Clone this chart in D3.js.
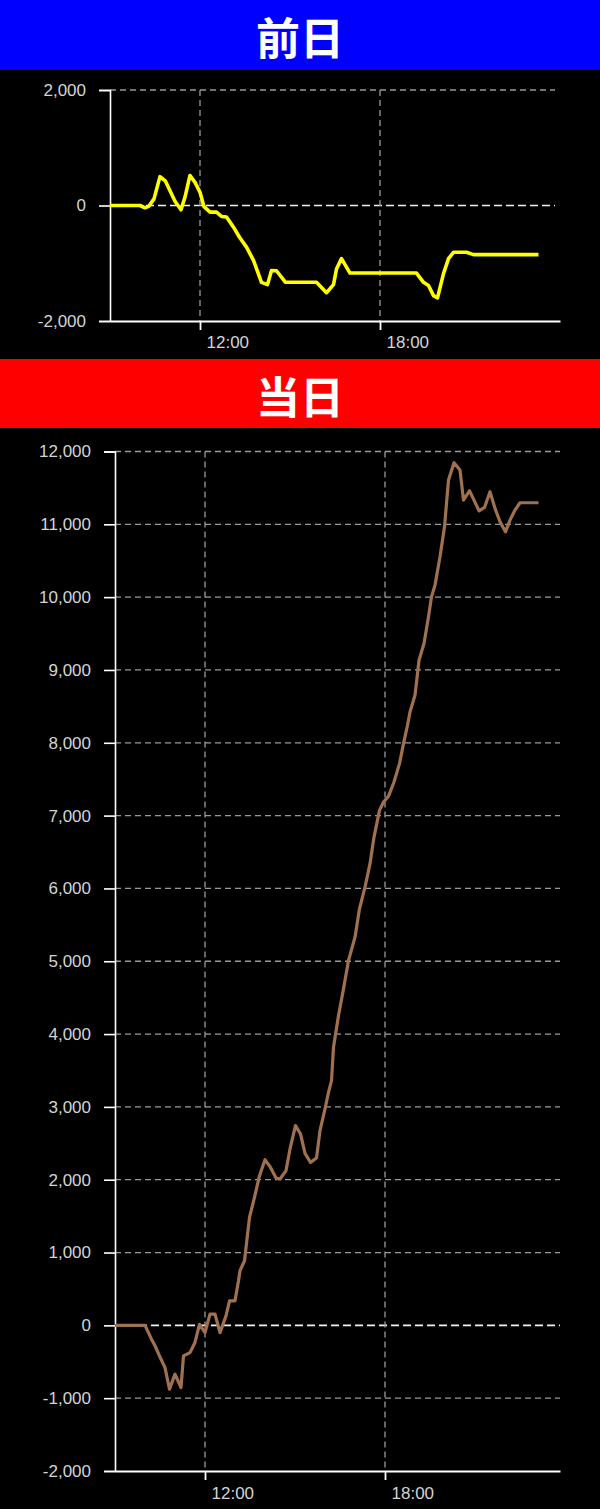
<!DOCTYPE html>
<html>
<head>
<meta charset="utf-8">
<script src="https://cdn.jsdelivr.net/npm/d3@7"></script>
<style>
html,body{margin:0;padding:0;background:#000;}
svg{display:block;}
</style>
</head>
<body>
<svg id="chart" width="600" height="1509"></svg>
<script>
// ---- data ----
const titles = ["前日", "当日"];
const xTickLabels = ["12:00", "18:00"];

const prevTimes = ["09:00","10:00","10:10","10:18","10:28","10:40","10:51","11:10","11:22","11:30","11:40","11:50","12:00","12:08","12:20","12:33","12:43","12:53","13:07","13:19","13:33","13:47","14:03","14:15","14:23","14:33","14:51","15:53","16:13","16:27","16:33","16:43","17:00","19:13","19:27","19:37","19:47","19:55","20:07","20:17","20:27","20:53","21:07","23:17"];
const prevValues = [0,0,-40,-10,115,500,420,75,-75,145,520,400,230,-20,-115,-115,-190,-200,-375,-550,-720,-950,-1330,-1370,-1125,-1130,-1330,-1330,-1510,-1370,-1100,-920,-1170,-1170,-1330,-1385,-1560,-1600,-1180,-920,-810,-810,-850,-850];
const prevYTicks = [-2000, 0, 2000];

const todayTimes = ["09:00","10:00","10:13","10:20","10:29","10:40","10:49","11:00","11:12","11:17","11:30","11:40","11:49","12:00","12:10","12:20","12:30","12:42","12:49","13:00","13:07","13:10","13:19","13:29","13:39","13:49","14:00","14:10","14:22","14:30","14:42","14:50","15:01","15:11","15:20","15:31","15:43","15:50","16:00","16:07","16:13","16:17","16:27","16:37","16:47","17:00","17:09","17:20","17:30","17:38","17:49","17:57","18:07","18:18","18:29","18:37","18:45","18:50","19:00","19:05","19:08","19:18","19:27","19:33","19:40","19:50","19:59","20:07","20:18","20:30","20:37","20:49","20:58","21:08","21:19","21:30","21:40","21:50","22:01","22:10","22:20","22:30","23:07"];
const todayValues = [0,0,-190,-280,-420,-580,-877,-670,-855,-420,-375,-235,15,-100,155,155,-100,130,337,337,612,750,887,1482,1757,2055,2275,2180,2023,2010,2124,2422,2742,2628,2361,2238,2298,2674,2972,3200,3361,3818,4254,4621,5010,5331,5721,6018,6340,6705,7072,7186,7265,7461,7714,7989,8241,8423,8653,8951,9134,9363,9730,10004,10165,10554,10966,11608,11846,11746,11333,11461,11333,11186,11232,11447,11219,11035,10897,11058,11196,11296,11296];
const todayYTicks = [-2000,-1000,0,1000,2000,3000,4000,5000,6000,7000,8000,9000,10000,11000,12000];

// ---- helpers ----
function toDate(s){ const [h,m] = s.split(":").map(Number); return new Date(1900,0,1,h,m); }
const numFmt = d3.formatLocale({decimal:".", thousands:",", grouping:[3], currency:["",""], minus:"-"}).format(",");

const svg = d3.select("#chart");
svg.append("rect").attr("x",0).attr("y",0).attr("width",600).attr("height",1509).attr("fill","#000");

function banner(y, h, color, text){
  svg.append("rect").attr("x",0).attr("y",y).attr("width",600).attr("height",h).attr("fill",color);
  svg.append("text").attr("x",300).attr("y",y+h/2+1)
    .attr("text-anchor","middle").attr("dominant-baseline","central")
    .attr("fill","#fff").attr("font-family","'Noto Sans CJK JP','Noto Sans CJK SC',sans-serif")
    .attr("font-weight","bold").attr("font-size",44).text(text);
}
banner(0, 70, "#0000ff", titles[0]);
banner(359, 69, "#ff0000", titles[1]);

function drawChart(cfg){
  const x = d3.scaleTime().domain(cfg.xDomain.map(toDate)).range([cfg.left, cfg.right]);
  const y = d3.scaleLinear().domain(cfg.yDomain).range([cfg.bottom, cfg.top]);
  const g = svg.append("g");
  const font = "'Liberation Sans', Arial, sans-serif";

  // horizontal grid
  g.selectAll("line.hgrid").data(cfg.yTicks.filter(d => d !== cfg.yDomain[0])).enter().append("line")
    .attr("x1", cfg.left).attr("x2", cfg.gridRight)
    .attr("y1", d => y(d)).attr("y2", d => y(d))
    .attr("stroke", d => d === 0 ? "#f2f2f2" : "#9a9a9a")
    .attr("stroke-width", d => d === 0 ? 1.6 : 1.3)
    .attr("stroke-dasharray", d => d === 0 ? "8,4" : "6,4");

  // vertical grid
  g.selectAll("line.vgrid").data(xTickLabels).enter().append("line")
    .attr("x1", d => x(toDate(d))).attr("x2", d => x(toDate(d)))
    .attr("y1", cfg.top).attr("y2", cfg.bottom)
    .attr("stroke", "#9a9a9a").attr("stroke-width", 1.3).attr("stroke-dasharray", "6,4");

  // y axis
  const ya = d3.axisLeft(y).tickValues(cfg.yTicks).tickFormat(numFmt).tickSize(11).tickPadding(13);
  const yg = g.append("g").attr("transform", `translate(${cfg.left},0)`).call(ya);
  yg.select(".domain").attr("stroke","#fff").attr("stroke-width",1.6);
  yg.selectAll(".tick line").attr("stroke","#fff").attr("stroke-width",1.6);
  yg.selectAll(".tick text").attr("fill","#d4d4d4").attr("font-family",font).attr("font-size",17);

  // x axis
  const xa = d3.axisBottom(x).tickValues(xTickLabels.map(toDate)).tickFormat(d3.timeFormat("%H:%M")).tickSize(9).tickSizeOuter(0);
  const xg = g.append("g").attr("transform", `translate(0,${cfg.bottom})`).call(xa);
  xg.select(".domain").attr("stroke","#fff").attr("stroke-width",1.8);
  xg.selectAll(".tick line").attr("stroke","#fff").attr("stroke-width",1.8);
  xg.selectAll(".tick text").attr("fill","#d4d4d4").attr("font-family",font).attr("font-size",17)
    .attr("text-anchor","start").attr("dx",6).attr("dy",0).attr("y",cfg.labelDy);

  // line
  const pts = cfg.times.map((t,i) => [toDate(t), cfg.values[i]]);
  const line = d3.line().x(d => x(d[0])).y(d => y(d[1]));
  g.append("path").datum(pts).attr("d", line)
    .attr("fill","none").attr("stroke", cfg.color).attr("stroke-width", cfg.width)
    .attr("stroke-linejoin","round").attr("stroke-linecap","butt");
}

drawChart({
  xDomain: ["09:00","24:00"], yDomain: [-2000, 2000],
  left: 110, right: 560, gridRight: 555, top: 90, bottom: 321, labelDy: 27,
  yTicks: prevYTicks, times: prevTimes, values: prevValues, color: "#ffff00", width: 3.6
});

drawChart({
  xDomain: ["09:00","23:50"], yDomain: [-2000, 12000],
  left: 115, right: 560, gridRight: 560, top: 451.5, bottom: 1471, labelDy: 28,
  yTicks: todayYTicks, times: todayTimes, values: todayValues, color: "#a0714f", width: 3.2
});
</script>
</body>
</html>
